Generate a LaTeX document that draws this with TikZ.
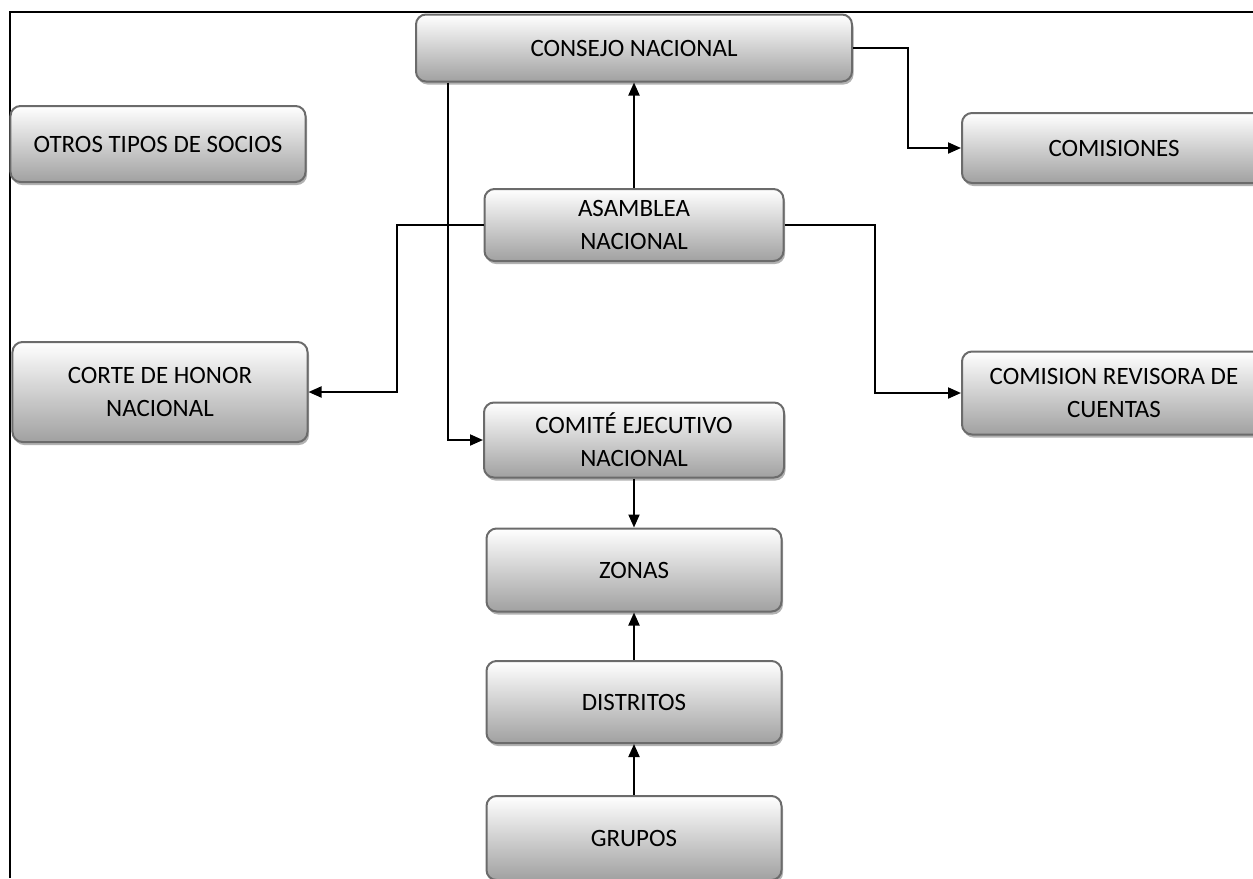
\documentclass[tikz,border=0pt]{standalone}
\usepackage{fontspec}
\setmainfont{Carlito}
\usetikzlibrary{arrows.meta,shadows}

\begin{document}
\begin{tikzpicture}
                \tikzset{x=0.2mm, y=-0.2mm}
                \tikzstyle{org}=[rectangle, rounded corners=2mm, draw=black!58, line width=0.4mm, top color=white, bottom color=black!37, drop shadow={shadow xshift=0.3mm, shadow yshift=-0.6mm, fill=black!30, opacity=1}, align=center, inner sep=0pt, font=\fontsize{14.2}{18.8}\selectfont]
                \tikzstyle{link}=[-{Triangle[length=2.6mm, width=2.2mm]}, line width=0.4mm]

                \useasboundingbox (0,0) rectangle (1253,878);
                \draw[line width=0.4mm] (10,878) -- (10,12) -- (1253,12);

                \draw (634, 48)     node[org, minimum width=87.2mm, minimum height=13.4mm]  (consejo)    {CONSEJO NACIONAL};
                \draw (158, 144)    node[org, minimum width=59mm, minimum height=15.2mm]    (otros)      {OTROS TIPOS DE SOCIOS};
                \draw (1114, 148)   node[org, minimum width=60.8mm, minimum height=14mm]    (comisiones) {COMISIONES};
                \draw (634, 225)    node[org, minimum width=59.8mm, minimum height=14.4mm]  (asamblea)   {ASAMBLEA\\NACIONAL};
                \draw (160, 392)    node[org, minimum width=59mm, minimum height=20mm]      (corte)      {CORTE DE HONOR\\NACIONAL};
                \draw (1114, 393)   node[org, minimum width=60.8mm, minimum height=16.6mm]  (revisora)   {COMISION REVISORA DE\\CUENTAS};
                \draw (634, 440)    node[org, minimum width=60mm, minimum height=15mm]      (comite)     {COMITÉ EJECUTIVO\\NACIONAL};
                \draw (634, 570)    node[org, minimum width=59mm, minimum height=16.6mm]    (zonas)      {ZONAS};
                \draw (634, 702)    node[org, minimum width=59mm, minimum height=16.4mm]    (distritos)  {DISTRITOS};
                \draw (634, 838)    node[org, minimum width=59mm, minimum height=16.8mm]    (grupos)     {GRUPOS};

                \draw [link]        (asamblea) -- (consejo);
                \draw [link]        (consejo.east) -- ++(55,0) |- (comisiones.west);
                \draw [link]        (asamblea.west) -- ++(-87,0) |- (corte.east);
                \draw [link]        (asamblea.east) -- ++(90,0) |- (revisora.west);
                \draw [link]        ([xshift=6.6mm]consejo.south west) |- (comite.west);
                \draw [link]        (comite) -- (zonas);
                \draw [link]        (distritos) -- (zonas);
                \draw [link]        (grupos) -- (distritos);
            \end{tikzpicture}
\end{document}
